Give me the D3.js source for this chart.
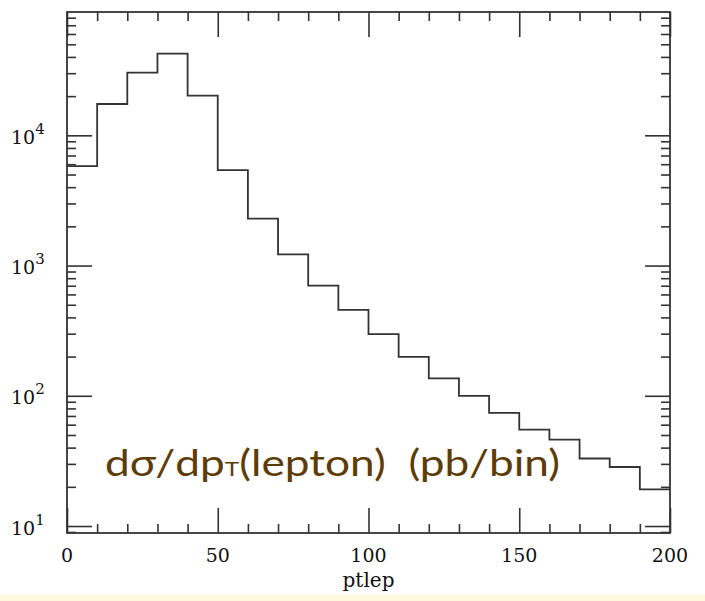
<!DOCTYPE html>
<html>
<head>
<meta charset="utf-8">
<script src="https://cdn.jsdelivr.net/npm/d3@7/dist/d3.min.js"></script>
<style>
  body { margin: 0; background: #fff; }
  svg { display: block; }
  .lab { font-family: "DejaVu Serif", serif; fill: #111; }
</style>
</head>
<body>
<div id="chart"></div>
<script>
// bin lower edges (ptlep, GeV) and cross section per bin (pb/bin)
var binEdges = [0, 10, 20, 30, 40, 50, 60, 70, 80, 90, 100, 110, 120, 130, 140, 150, 160, 170, 180, 190, 200];
var binValues = [5810, 17400, 30300, 42400, 20200, 5410, 2290, 1220, 702, 457, 298, 199, 136, 100, 74, 55, 46, 33, 28.4, 19.1];
var xTicks = [0, 50, 100, 150, 200];
var yDecades = [1, 2, 3, 4];
var xLabel = "ptlep";

var W = 705, H = 601;
var mLeft = 67, mRight = 670, mTop = 12, mBottom = 533;

var svg = d3.select("#chart").append("svg").attr("width", W).attr("height", H);

// pale yellow strip at the foot of the slide
svg.append("rect").attr("x", 0).attr("y", 595).attr("width", W).attr("height", H - 595).attr("fill", "#fff8dc");

var x = d3.scaleLinear().domain([0, 200]).range([mLeft, mRight]);
var y = d3.scaleLog().domain([8.84, 88500]).range([mBottom, mTop]);

var minorX = d3.range(0, 201, 10).filter(function(d) { return d % 50 != 0; });
var minorY = [];
[0, 1, 2, 3, 4].forEach(function(k) {
    for (var m = 2; m <= 9; m++) {
        var v = m * Math.pow(10, k);
        if (v > y.domain()[0] && v < y.domain()[1]) minorY.push(v);
    }
});
var majorY = yDecades.map(function(k) { return Math.pow(10, k); });

function tickAxis(axis, ticks, size, tx, ty) {
    var g = svg.append("g").attr("transform", "translate(" + tx + "," + ty + ")")
        .call(axis.tickValues(ticks).tickSize(size).tickFormat(""));
    g.select(".domain").remove();
    g.selectAll("line").attr("stroke", "#333").attr("stroke-width", 1.6);
}

// ticks on all four sides, pointing inward
tickAxis(d3.axisBottom(x), minorX, -9, 0, mBottom);
tickAxis(d3.axisBottom(x), xTicks, -25, 0, mBottom);
tickAxis(d3.axisTop(x), minorX, -9, 0, mTop);
tickAxis(d3.axisTop(x), xTicks, -25, 0, mTop);
tickAxis(d3.axisLeft(y), minorY, -9, mLeft, 0);
tickAxis(d3.axisLeft(y), majorY, -25, mLeft, 0);
tickAxis(d3.axisRight(y), minorY, -9, mRight, 0);
tickAxis(d3.axisRight(y), majorY, -25, mRight, 0);

// frame
svg.append("rect").attr("x", mLeft).attr("y", mTop)
    .attr("width", mRight - mLeft).attr("height", mBottom - mTop)
    .attr("fill", "none").attr("stroke", "#333").attr("stroke-width", 1.8);

// histogram
var pts = binValues.map(function(v, i) { return [binEdges[i], v]; });
pts.push([binEdges[binEdges.length - 1], binValues[binValues.length - 1]]);
var line = d3.line().curve(d3.curveStepAfter)
    .x(function(d) { return x(d[0]); })
    .y(function(d) { return y(d[1]); });
svg.append("path").datum(pts).attr("d", line)
    .attr("fill", "none").attr("stroke", "#333").attr("stroke-width", 1.8);

// x tick labels
svg.selectAll(".xl").data(xTicks).enter().append("text")
    .attr("class", "lab")
    .attr("x", function(d) { return x(d); })
    .attr("y", 562)
    .attr("text-anchor", "middle")
    .attr("font-size", 19)
    .text(function(d) { return d; });

// y tick labels 10^k
var yl = svg.selectAll(".yl").data(yDecades).enter().append("text")
    .attr("class", "lab")
    .attr("x", 11)
    .attr("y", function(d) { return y(Math.pow(10, d)) + 8.5; })
    .attr("font-size", 19);
yl.append("tspan").text("10");
yl.append("tspan").attr("dy", -10).attr("font-size", 15).text(function(d) { return d; });

// x axis title
svg.append("text").attr("class", "lab")
    .attr("x", (mLeft + mRight) / 2).attr("y", 587)
    .attr("text-anchor", "middle").attr("font-size", 20)
    .text(xLabel);

// overlaid slide caption (stretched wide like the slide font)
var cap = svg.append("text")
    .attr("x", 0).attr("y", 0)
    .attr("font-family", "Lato, 'Open Sans', sans-serif")
    .attr("font-size", 36)
    .attr("fill", "#5e3c08");
cap.append("tspan").text("dσ/dp");
cap.append("tspan").attr("font-size", 20).text("T");
cap.append("tspan").text("(lepton)  (pb/bin)");
cap.style("white-space", "pre");
var capW = cap.node().getBBox().width;
cap.attr("transform", "translate(105,476) scale(" + (455 / capW) + ",1)");
</script>
</body>
</html>
